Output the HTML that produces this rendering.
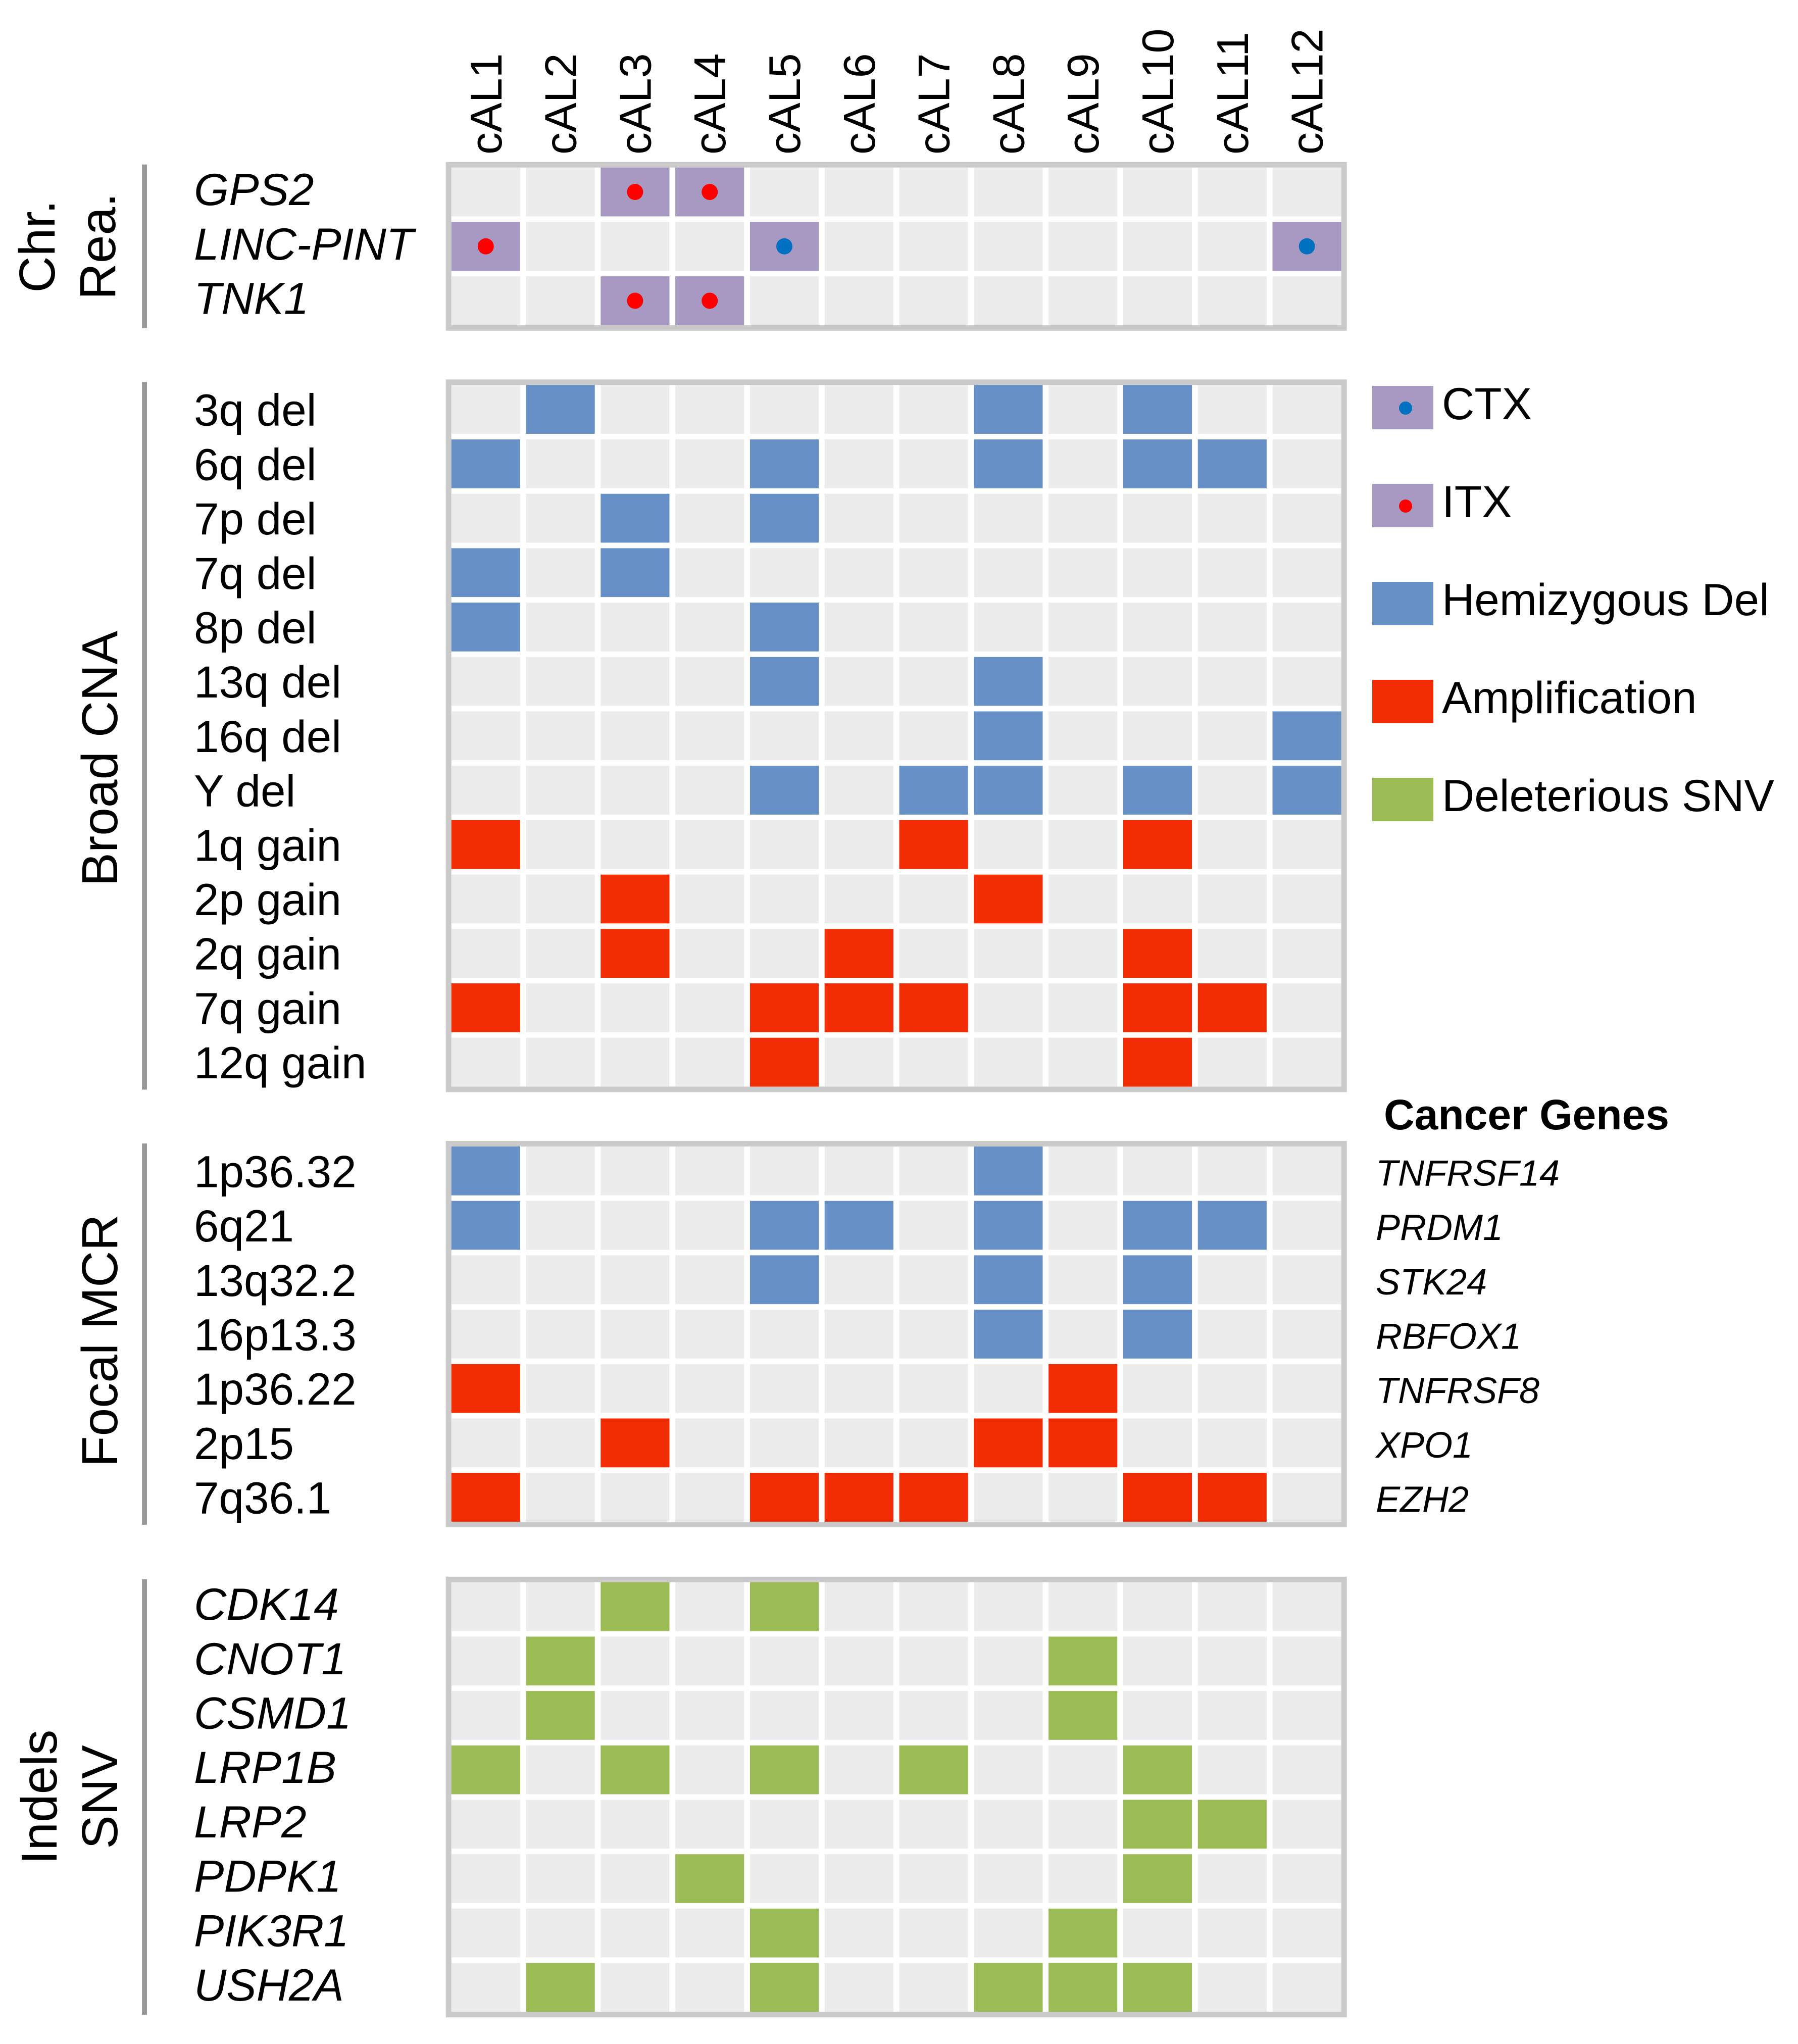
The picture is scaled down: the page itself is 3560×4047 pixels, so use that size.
<!DOCTYPE html>
<html><head><meta charset="utf-8"><style>
html,body{margin:0;padding:0;background:#fff;}
svg{display:block;}
text{font-family:"Liberation Sans",sans-serif;}
</style></head><body>
<svg id="chart" width="3560" height="4047" viewBox="0 0 3560 4047" xmlns="http://www.w3.org/2000/svg">
<g id="cols"></g>
<g id="grid"></g>
<g id="legend"></g>
</svg>
<script>
const samples = ["cAL1","cAL2","cAL3","cAL4","cAL5","cAL6","cAL7","cAL8","cAL9","cAL10","cAL11","cAL12"];
// Chromosomal rearrangements: 'I' = ITX, 'C' = CTX
const chrRows = ["GPS2","LINC-PINT","TNK1"];
const chrVals = [
  "..II........",
  "I...C......C",
  "..II........"
];
const broadRows = ["3q del","6q del","7p del","7q del","8p del","13q del","16q del","Y del","1q gain","2p gain","2q gain","7q gain","12q gain"];
const broadVals = [
  ".H.....H.H..",
  "H...H..H.HH.",
  "..H.H.......",
  "H.H.........",
  "H...H.......",
  "....H..H....",
  ".......H...H",
  "....H.HH.H.H",
  "A.....A..A..",
  "..A....A....",
  "..A..A...A..",
  "A...AAA..AA.",
  "....A....A.."
];
const focalRows = ["1p36.32","6q21","13q32.2","16p13.3","1p36.22","2p15","7q36.1"];
const focalGenes = ["TNFRSF14","PRDM1","STK24","RBFOX1","TNFRSF8","XPO1","EZH2"];
const focalVals = [
  "H......H....",
  "H...HH.H.HH.",
  "....H..H.H..",
  ".......H.H..",
  "A.......A...",
  "..A....AA...",
  "A...AAA..AA."
];
const snvRows = ["CDK14","CNOT1","CSMD1","LRP1B","LRP2","PDPK1","PIK3R1","USH2A"];
const snvVals = [
  "..S.S.......",
  ".S......S...",
  ".S......S...",
  "S.S.S.S..S..",
  ".........SS.",
  "...S.....S..",
  "....S...S...",
  ".S..S..SSS.."
];

const NS="http://www.w3.org/2000/svg";
const COL={bg:"#ececec",I:"#a899c2",C:"#a899c2",H:"#6690c6",A:"#f22c04",S:"#9bbb55"};
const X0=893.7, PX=147.8, CW=136.2, PY=107.7, CH=96.7, B=11;
function xs(i){return X0+i*PX;}
function mk(tag,attrs,parent){const e=document.createElementNS(NS,tag);for(const k in attrs)e.setAttribute(k,attrs[k]);parent.appendChild(e);return e;}
const grid=document.getElementById('grid');
const cols=document.getElementById('cols');
samples.forEach((s,i)=>{
  const cx=xs(i)+CW/2;
  const t=mk('text',{x:0,y:0,'font-size':88,transform:`translate(${cx+31},306) rotate(-90)`},cols);
  
  
  t.textContent=s;
});
function section(name,rows,vals,top,italic,labels){
  const g=mk('g',{},grid);
  
  
  const h=rows.length*PY-(PY-CH);
  const right=xs(11)+CW;
  const box=mk('rect',{x:X0-B,y:top-B,width:right-X0+2*B,height:h+2*B,fill:'#cacaca'},g);
  
  
  mk('rect',{x:X0,y:top,width:right-X0,height:h,fill:'#fff'},g);
  const ln=mk('rect',{x:281,y:top-6,width:10,height:h+12,fill:'#999'},g);
  
  
  rows.forEach((r,ri)=>{
    const y=top+ri*PY;
    const lt=mk('text',{x:384,y:y+CH/2+(italic?26:32),'font-size':89,'font-style':italic?'italic':'normal'},g);
    
    
    lt.textContent=r;
    for(let c=0;c<samples.length;c++){
      const v=vals[ri][c];
      const fill=v==='.'?COL.bg:COL[v];
      const rc=mk('rect',{x:xs(c),y:y,width:CW,height:CH,fill:fill},g);
      
      
      if(v==='I'||v==='C'){
        const d=mk('circle',{cx:xs(c)+CW/2,cy:y+CH/2,r:16,fill:v==='I'?'#ff0000':'#0070c0'},g);
        
        
      }
    }
    if(labels){
      const gl=mk('text',{x:2724,y:y+CH/2+29,'font-size':72,'font-style':'italic'},g);
      
      
      gl.textContent=labels[ri];
    }
  });
  return {top:top,bottom:top+h};
}
function groupLabel(lines,xs_,cy){
  lines.forEach((l,i)=>{
    const t=mk('text',{x:0,y:0,'font-size':100,'text-anchor':'middle',transform:`translate(${xs_[i]},${cy}) rotate(-90)`},grid);
    
    
    t.textContent=l;
  });
}
let s1=section('chr-rea',chrRows,chrVals,331.7,true);
groupLabel(["Chr.","Rea."],[108,228],(s1.top+s1.bottom)/2);
let s2=section('broad-cna',broadRows,broadVals,762.3,false);
groupLabel(["Broad CNA"],[232],(s2.top+s2.bottom)/2+45);
let s3=section('focal-mcr',focalRows,focalVals,2270,false,focalGenes);
groupLabel(["Focal MCR"],[232],(s3.top+s3.bottom)/2+13);
let s4=section('indels-snv',snvRows,snvVals,3132.7,true);
groupLabel(["Indels","SNV"],[112,232],(s4.top+s4.bottom)/2);
const cg=mk('text',{x:2740,y:2236,'font-size':84,'font-weight':'bold'},grid);


cg.textContent="Cancer Genes";

const legendLabels=["CTX","ITX","Hemizygous Del","Amplification","Deleterious SNV"];
const legendKeys=["C","I","H","A","S"];
const lg=document.getElementById('legend');
legendLabels.forEach((l,i)=>{
  const y=764+i*194;
  const p=mk('rect',{x:2717,y:y,width:121,height:86,fill:COL[legendKeys[i]]},lg);
  
  
  if(legendKeys[i]==='C'||legendKeys[i]==='I'){
    const d=mk('circle',{cx:2783,cy:y+44,r:13,fill:legendKeys[i]==='I'?'#ff0000':'#0070c0'},lg);
    
    
  }
  const t=mk('text',{x:2855,y:y+66,'font-size':89},lg);
  
  
  t.textContent=l;
});
</script>
</body></html>
